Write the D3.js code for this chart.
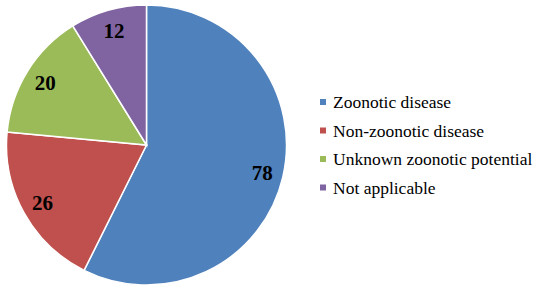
<!DOCTYPE html>
<html lang="en">
<head>
	<meta charset="UTF-8">
	<title>zoonotic pie</title>
	<style>
		body { margin: 0; background: #fff; }
	</style>
</head>
<body>
	<svg id="cont" width="536" height="293">
		<g id="pie" transform="translate(146.5,145)"></g>
		<g id="legend" transform="translate(323,102)"></g>
	</svg>
</body>
<script src="https://cdn.jsdelivr.net/npm/d3@7"></script>
<script>
	let categories = ["Zoonotic disease", "Non-zoonotic disease", "Unknown zoonotic potential", "Not applicable"]
	let counts = [78, 26, 20, 12]
	let colours = ["#4F81BD", "#C0504D", "#9BBB59", "#8064A2"]

	let serif = "'Liberation Serif', 'Times New Roman', 'DejaVu Serif', serif"
	let data = categories.map((c, i) => ({ name: c, value: counts[i] }))

	let pie = d3.pie()
		.value(d => d.value)
		.sort(null)
	let arc = d3.arc()
		.innerRadius(0)
		.outerRadius(140)
	let labelArc = d3.arc()
		.innerRadius(119)
		.outerRadius(119)
	let colour = d3.scaleOrdinal()
		.domain(categories)
		.range(colours)

	let container = d3.select("#pie")
	let slices = container.selectAll("g")
		.data(pie(data))
		.enter()
		.append("g")

	slices.append("path")
		.attr("d", arc)
		.attr("fill", d => colour(d.data.name))
		.attr("stroke", "#fff")
		.attr("stroke-width", 1.5)

	slices.append("text")
		.attr("transform", d => "translate(" + labelArc.centroid(d) + ")")
		.attr("text-anchor", "middle")
		.attr("dy", "0.35em")
		.style("font-family", serif)
		.style("font-size", "21px")
		.style("font-weight", "bold")
		.attr("fill", "#000")
		.text(d => d.data.value)

	let rowScale = d3.scaleBand()
		.domain(categories)
		.range([0, 114])

	let rows = d3.select("#legend").selectAll("g")
		.data(categories)
		.enter()
		.append("g")
		.attr("transform", d => "translate(0," + rowScale(d) + ")")

	rows.append("rect")
		.attr("x", -3)
		.attr("y", -3)
		.attr("width", 6)
		.attr("height", 6)
		.attr("fill", d => colour(d))

	rows.append("text")
		.attr("x", 10)
		.attr("dy", "0.35em")
		.style("font-family", serif)
		.style("font-size", "17.5px")
		.attr("fill", "#000")
		.text(d => d)
</script>
</html>
